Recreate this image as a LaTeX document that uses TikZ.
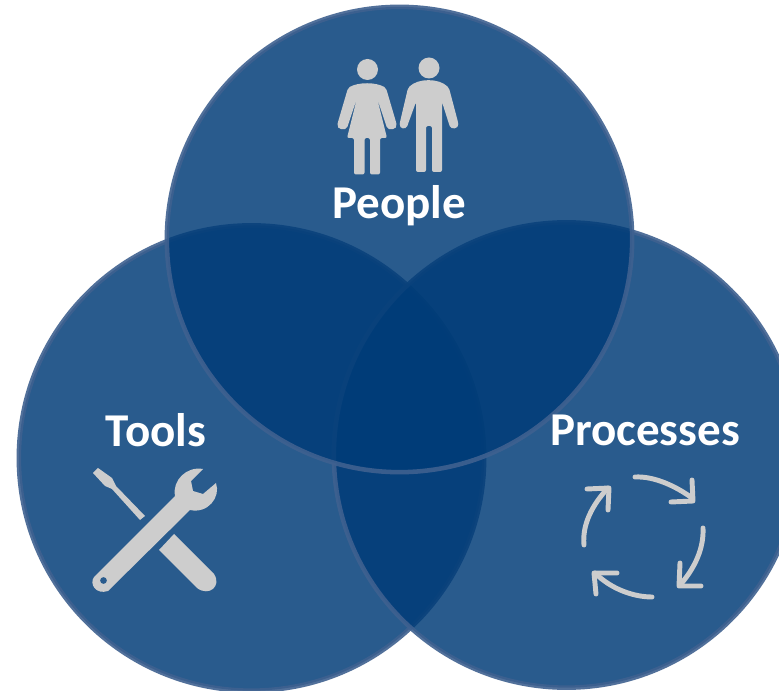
\documentclass[tikz,border=0pt]{standalone}
\usepackage{fontspec}
\setmainfont{Carlito}
\definecolor{discfill}{HTML}{003C78}
\definecolor{discedge}{HTML}{3F6190}
\definecolor{icon}{HTML}{CDCDCD}
\tikzset{
  disc/.style={circle,minimum size=349pt,inner sep=0pt,outer sep=0pt,fill=discfill,fill opacity=0.84,draw=discedge,line width=3.4pt,draw opacity=0.9},
  lbl/.style={text=white,font=\bfseries\fontsize{35.3}{38}\selectfont,inner sep=0pt},
  cyc/.style={draw=icon,line width=3.7pt,line cap=round,line join=round}
}
\begin{document}
\begin{tikzpicture}[x=0.75pt,y=-0.75pt]
\useasboundingbox (0,0) rectangle (779,691);
\begin{scope}
\clip (0,0) rectangle (779,691);
\fill[white] (0,0) rectangle (779,691);
\node[disc] (tools) at (251.5,458) {};
\node[disc] (processes) at (566.5,455) {};
\node[disc] (people) at (399.5,239.5) {};
\end{scope}
\node[lbl] (tpeople) at (399,206) {People};
\node[lbl] (ttools) at (156,430) {Tools};
\node[lbl] (tproc) at (645,430) {Processes};
% woman
\fill[icon] (367.5,69.5) circle[radius=10.5];
\fill[icon,rounded corners=1.5pt] (348,88) .. controls (358,82) and (376,82) .. (386,88) -- (396,122) .. controls (398,130) and (388,131) .. (386,125) -- (377,98) -- (387,138) -- (380,138) -- (380,174.5) -- (370,174.5) -- (370,138) -- (364.5,138) -- (364.5,174.5) -- (354,174.5) -- (354,138) -- (347,138) -- (357,98) -- (348,125) .. controls (346,131) and (336,130) .. (338,122) -- cycle;
% man
\fill[icon] (429,68) circle[radius=10.5];
\fill[icon,rounded corners=1.5pt] (408,88) .. controls (418,78) and (439,78) .. (449,88) -- (458,122) .. controls (459,129) and (451,130) .. (449,124) -- (442,102) -- (442,172) -- (432,172) -- (432,126) -- (426,126) -- (426,172) -- (416,172) -- (416,102) -- (408,124) .. controls (406,130) and (399,129) .. (400,122) -- cycle;
% screwdriver
\fill[icon] (93,473) -- (98,468) -- (112,478) -- (116,486) -- (145,516) -- (140,520) -- (112,489) -- (105,486) -- cycle;
\fill[icon] (159,550) -- (174,534) -- (214,574) .. controls (222,586) and (209,597) .. (197,588) -- cycle;
% wrench
\fill[icon,even odd rule] (175,496) .. controls (172,480) and (187,466) .. (203,469) -- (191,481) -- (193,491) -- (203,494) -- (216,483) .. controls (221,497) and (208,514) .. (190,510) -- (108,591) .. controls (96,595) and (89,584) .. (94,577) -- cycle (103.5,580.5) circle[radius=3.5];
% cycle arrows
\draw[cyc] (635,477) .. controls (655,476) and (677,487) .. (692,498);
\draw[cyc] (692,480) -- (693,501) -- (671,502);
\draw[cyc] (703,528) .. controls (704,548) and (695,568) .. (680,585);
\draw[cyc] (680,563) -- (679,586) -- (701,586);
\draw[cyc] (652,597) .. controls (635,597) and (612,590) .. (595,573);
\draw[cyc] (596,594) -- (594,573) -- (617,573);
\draw[cyc] (584,545) .. controls (582,525) and (592,505) .. (608,488);
\draw[cyc] (587,489) -- (609,488) -- (608,510);
\end{tikzpicture}
\end{document}
